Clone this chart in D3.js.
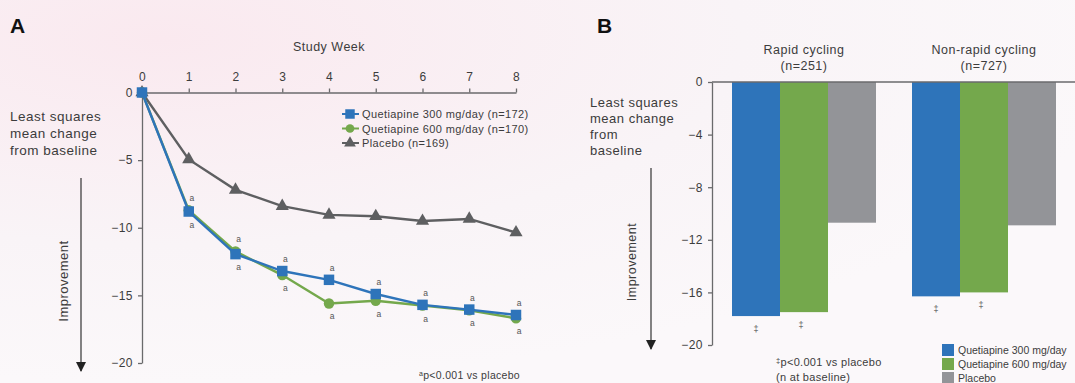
<!DOCTYPE html>
<html>
<head>
<meta charset="utf-8">
<script src="https://cdn.jsdelivr.net/npm/d3@7"></script>
<style>
  body { margin: 0; background: #faf5f8; }
  svg { display: block; font-family: "Liberation Sans", Arial, sans-serif; }
  .axis path, .axis line { stroke: #6a6a6c; stroke-width: 1.3; }
  .axis text { fill: #3c3c3c; font-size: 12px; letter-spacing: 0.5px; font-family: "Liberation Sans", Arial, sans-serif; }
  .lbl { letter-spacing: 0.5px; }
</style>
</head>
<body>
<div id="chart"></div>
<script>
const width = 1075;
const height = 383;

// panel A data
const weeks = [0, 1, 2, 3, 4, 5, 6, 7, 8];
const q300 = [0, -8.8, -11.95, -13.2, -13.85, -14.9, -15.7, -16.05, -16.45];
const q600 = [0, -8.7, -11.75, -13.5, -15.6, -15.4, -15.75, -16.1, -16.7];
const placebo = [0, -4.95, -7.2, -8.4, -9.05, -9.15, -9.5, -9.35, -10.35];
const sigWeeks = [1, 2, 3, 4, 5, 6, 7, 8];
const yTicksA = [0, -5, -10, -15, -20];

const legendA = ["Quetiapine 300 mg/day (n=172)", "Quetiapine 600 mg/day  (n=170)", "Placebo (n=169)"];

// panel B data
const groups = ["Rapid cycling", "Non-rapid cycling"];
const groupN = ["(n=251)", "(n=727)"];
const arms = ["Quetiapine 300 mg/day", "Quetiapine 600 mg/day", "Placebo"];
const barValues = [
    [-17.8, -17.5, -10.7],
    [-16.3, -16.0, -10.9]
];
const barSig = [true, true, false];
const yTicksB = [0, -4, -8, -12, -16, -20];

const colors = ["#2e74ba", "#74a84c", "#939498"];
const placeboLine = "#5e5f61";
const textCol = "#3c3c3c";

const svg = d3.select("#chart").append("svg").attr("width", width).attr("height", height);

// background
const defs = svg.append("defs");
const grad = defs.append("radialGradient").attr("id", "bg").attr("cx", "0.15").attr("cy", "0.1").attr("r", "0.9");
grad.append("stop").attr("offset", "0").attr("stop-color", "#fae9ef");
grad.append("stop").attr("offset", "0.6").attr("stop-color", "#f9f4f7");
grad.append("stop").attr("offset", "1").attr("stop-color", "#fbf8fa");
svg.append("rect").attr("width", width).attr("height", height).attr("fill", "url(#bg)");

// arrow marker (points along the line direction)
defs.append("marker")
    .attr("id", "arrow")
    .attr("viewBox", "0 0 10 10")
    .attr("refX", 9).attr("refY", 5)
    .attr("markerWidth", 11).attr("markerHeight", 10)
    .attr("markerUnits", "userSpaceOnUse")
    .attr("orient", "auto")
    .append("path").attr("d", "M0,0 L10,5 L0,10 Z").attr("fill", "#222");

// ---------------- Panel A ----------------
const xA = d3.scaleLinear().domain([0, 8]).range([142, 516]);
const yA = d3.scaleLinear().domain([0, -20]).range([92.5, 363]);

svg.append("text").attr("x", 10).attr("y", 33).attr("font-size", 21).attr("font-weight", "bold")
    .attr("fill", "#111").text("A");

svg.append("g").attr("class", "axis")
    .attr("transform", `translate(0,${yA(0)})`)
    .call(d3.axisTop(xA).tickValues(weeks).tickSize(4).tickSizeOuter(0).tickPadding(8).tickFormat(d3.format("d")));

svg.append("g").attr("class", "axis")
    .attr("transform", `translate(${xA(0)},0)`)
    .call(d3.axisLeft(yA).tickValues(yTicksA).tickSize(4).tickSizeOuter(0).tickPadding(5));

svg.append("text").attr("class", "lbl").attr("x", 329).attr("y", 51).attr("text-anchor", "middle")
    .attr("font-size", 12.5).attr("fill", textCol).text("Study Week");

["Least squares", "mean change", "from baseline"].forEach((t, i) => {
    svg.append("text").attr("class", "lbl").attr("x", 10).attr("y", 121 + i * 17)
        .attr("font-size", 13.5).attr("letter-spacing", 0.7).attr("fill", textCol).text(t);
});

svg.append("line").attr("x1", 81).attr("x2", 81).attr("y1", 178).attr("y2", 371)
    .attr("stroke", "#333").attr("stroke-width", 1.2).attr("marker-end", "url(#arrow)");
svg.append("text").attr("class", "lbl").attr("transform", "translate(68,281) rotate(-90)")
    .attr("text-anchor", "middle").attr("font-size", 13).attr("fill", textCol).text("Improvement");

const seriesA = [
    { name: legendA[0], values: q300, color: colors[0], shape: "square" },
    { name: legendA[1], values: q600, color: colors[1], shape: "circle" },
    { name: legendA[2], values: placebo, color: placeboLine, shape: "triangle" }
];

const line = d3.line().x((d, i) => xA(weeks[i])).y(d => yA(d));
const symbolOf = s => s === "square" ? d3.symbolSquare : s === "circle" ? d3.symbolCircle : d3.symbolTriangle;
const sizeOf = s => s === "square" ? 110 : s === "circle" ? 85 : 75;

// draw placebo first, then 600, then 300 on top
[seriesA[2], seriesA[1], seriesA[0]].forEach(s => {
    svg.append("path").datum(s.values)
        .attr("fill", "none").attr("stroke", s.color).attr("stroke-width", 2.4)
        .attr("d", line);
    svg.selectAll(null).data(s.values).join("path")
        .attr("transform", (d, i) => `translate(${xA(weeks[i])},${yA(d)})`)
        .attr("fill", s.color)
        .attr("d", d3.symbol().type(symbolOf(s.shape)).size(sizeOf(s.shape)));
});

// significance marks above the upper and below the lower active-arm point
sigWeeks.forEach(w => {
    const i = weeks.indexOf(w);
    const top = Math.max(q300[i], q600[i]);
    const bot = Math.min(q300[i], q600[i]);
    svg.append("text").attr("x", xA(w) + 3).attr("y", yA(top) - 9)
        .attr("text-anchor", "middle").attr("font-size", 8.5).attr("fill", "#555").text("a");
    svg.append("text").attr("x", xA(w) + 3).attr("y", yA(bot) + 16)
        .attr("text-anchor", "middle").attr("font-size", 8.5).attr("fill", "#555").text("a");
});

// legend A
const legA = svg.append("g").attr("transform", "translate(350,114)");
seriesA.forEach((s, i) => {
    const g = legA.append("g").attr("transform", `translate(0,${i * 14.5})`);
    g.append("line").attr("x1", -8).attr("x2", 9).attr("stroke", s.color).attr("stroke-width", 2);
    g.append("path").attr("fill", s.color)
        .attr("d", d3.symbol().type(symbolOf(s.shape)).size(s.shape === "square" ? 90 : 60));
    g.append("text").attr("x", 12).attr("y", 4).attr("font-size", 11).attr("letter-spacing", 0.4)
        .attr("fill", textCol).text(s.name);
});

const fnA = svg.append("text").attr("x", 520).attr("y", 379).attr("text-anchor", "end")
    .attr("font-size", 10.5).attr("letter-spacing", 0.3).attr("fill", textCol);
fnA.append("tspan").attr("font-size", 7).attr("dy", -3).text("a");
fnA.append("tspan").attr("dy", 3).text("p<0.001 vs placebo");

// ---------------- Panel B ----------------
const xB = d3.scaleBand().domain(groups).range([714, 1074]).paddingInner(0.2).paddingOuter(0.1);
const xArm = d3.scaleBand().domain(arms).range([0, xB.bandwidth()]);
const yB = d3.scaleLinear().domain([0, -20]).range([82, 345]);

svg.append("text").attr("x", 597).attr("y", 33).attr("font-size", 21).attr("font-weight", "bold")
    .attr("fill", "#111").text("B");

groups.forEach((g, gi) => {
    const gx = xB(g);
    svg.selectAll(null).data(barValues[gi]).join("rect")
        .attr("x", (d, i) => gx + xArm(arms[i]))
        .attr("width", xArm.bandwidth())
        .attr("y", yB(0))
        .attr("height", d => yB(d) - yB(0))
        .attr("fill", (d, i) => colors[i]);
    barValues[gi].forEach((v, i) => {
        if (!barSig[i]) return;
        svg.append("text").attr("x", gx + xArm(arms[i]) + xArm.bandwidth() / 2 - (i === 1 ? 3 : 0))
            .attr("y", yB(v) + 16).attr("text-anchor", "middle")
            .attr("font-size", 9).attr("fill", "#555").text("\u2021");
    });
    svg.append("text").attr("class", "lbl").attr("x", gx + xB.bandwidth() / 2).attr("y", 54)
        .attr("text-anchor", "middle").attr("font-size", 12.5).attr("fill", textCol).text(g);
    svg.append("text").attr("class", "lbl").attr("x", gx + xB.bandwidth() / 2).attr("y", 70)
        .attr("text-anchor", "middle").attr("font-size", 12.5).attr("fill", textCol).text(groupN[gi]);
});

svg.append("line").attr("x1", 712).attr("x2", 1075).attr("y1", yB(0)).attr("y2", yB(0))
    .attr("stroke", "#6a6a6c").attr("stroke-width", 1.3);

svg.append("g").attr("class", "axis")
    .attr("transform", "translate(712,0)")
    .call(d3.axisLeft(yB).tickValues(yTicksB).tickSize(4).tickSizeOuter(0).tickPadding(5));

["Least squares", "mean change", "from", "baseline"].forEach((t, i) => {
    svg.append("text").attr("class", "lbl").attr("x", 590).attr("y", 107 + i * 16)
        .attr("font-size", 13).attr("letter-spacing", 0.6).attr("fill", textCol).text(t);
});

svg.append("line").attr("x1", 651).attr("x2", 651).attr("y1", 168).attr("y2", 349)
    .attr("stroke", "#333").attr("stroke-width", 1.2).attr("marker-end", "url(#arrow)");
svg.append("text").attr("class", "lbl").attr("transform", "translate(636,262) rotate(-90)")
    .attr("text-anchor", "middle").attr("font-size", 12.5).attr("fill", textCol).text("Improvement");

const fnB = svg.append("text").attr("x", 776).attr("y", 366).attr("font-size", 11)
    .attr("letter-spacing", 0.3).attr("fill", textCol);
fnB.append("tspan").attr("font-size", 7.5).attr("dy", -3).text("\u2021");
fnB.append("tspan").attr("dy", 3).text("p<0.001 vs placebo");
svg.append("text").attr("x", 776).attr("y", 381).attr("font-size", 11).attr("letter-spacing", 0.3)
    .attr("fill", textCol).text("(n at baseline)");

const legB = svg.append("g").attr("transform", "translate(942,344)");
arms.forEach((a, i) => {
    legB.append("rect").attr("x", 0).attr("y", i * 14).attr("width", 12).attr("height", 12).attr("fill", colors[i]);
    legB.append("text").attr("x", 16).attr("y", i * 14 + 10).attr("font-size", 10.5)
        .attr("fill", textCol).text(a);
});
</script>
</body>
</html>
